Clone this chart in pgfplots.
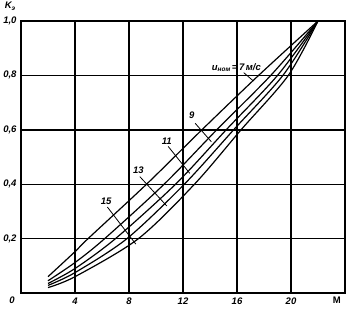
\documentclass[border=0pt]{standalone}
\usepackage{fontspec}
\setmainfont{Liberation Sans}
\usepackage{pgfplots}
\pgfplotsset{compat=1.18}
\begin{document}
\begin{tikzpicture}
\useasboundingbox (-21pt,-16pt) rectangle (329pt,293pt);
\begin{axis}[
  at={(0,0)}, anchor=south west,
  width=324pt, height=272pt, scale only axis,
  xmin=0, xmax=24, ymin=0, ymax=1,
  xtick={0,4,8,12,16,20,24},
  xticklabels={,4,8,12,16,20,},
  ytick={0.2,0.4,0.6,0.8,1.0},
  yticklabels={{0,2},{0,4},{0,6},{0,8},{1,0}},
  grid=major,
  major grid style={black, line width=1.4pt},
  axis line style={black, line width=1.4pt},
  major tick length=0pt,
  tick style={draw=none},
  /pgf/number format/assume math mode=true,
  ticklabel style={font=\fontsize{9.5}{11}\selectfont\bfseries\itshape},
  xticklabel style={yshift=-1pt},
  yticklabel style={xshift=-1pt},
  clip=false,
]
\addplot[black, line width=1.2pt, smooth] coordinates {(2,0.06)(4,0.152)(4.97,0.2)(9.3,0.4)(13.4,0.6)(17.6,0.8)(22,1.0)};
\addplot[black, line width=1.2pt, smooth] coordinates {(2,0.045)(4,0.112)(6.2,0.2)(10.6,0.4)(14.5,0.6)(18.5,0.8)(22,1.0)};
\addplot[black, line width=1.2pt, smooth] coordinates {(2,0.035)(4,0.09)(7.0,0.2)(11.45,0.4)(15.2,0.6)(19.0,0.8)(22,1.0)};
\addplot[black, line width=1.2pt, smooth] coordinates {(2,0.028)(4,0.075)(7.85,0.2)(12.1,0.4)(15.75,0.6)(19.4,0.8)(22,1.0)};
\addplot[black, line width=1.2pt, smooth] coordinates {(2,0.02)(4,0.06)(8.7,0.2)(12.85,0.4)(16.3,0.6)(19.8,0.8)(22,1.0)};
% leader lines
\draw[black, line width=0.8pt] (axis cs:16.5,0.81) -- (axis cs:17.2,0.78);
\draw[black, line width=0.8pt] (axis cs:12.9,0.624) -- (axis cs:14.1,0.556);
\draw[black, line width=0.8pt] (axis cs:10.9,0.539) -- (axis cs:12.5,0.44);
\draw[black, line width=0.8pt] (axis cs:8.8,0.428) -- (axis cs:10.8,0.32);
\draw[black, line width=0.8pt] (axis cs:6.4,0.316) -- (axis cs:8.5,0.18);
% labels
\begin{scope}[every node/.style={font=\fontsize{9.5}{11}\selectfont\bfseries\itshape, inner sep=0pt}]
\node at (axis cs:15.95,0.828) {\fontsize{9.5}{11}\selectfont u\raisebox{-1.5pt}{\fontsize{6.5}{7}\selectfont ном}\,=\,7\,м/с};
\node at (axis cs:12.64,0.654) {9};
\node at (axis cs:10.8,0.557) {11};
\node at (axis cs:8.7,0.453) {13};
\node at (axis cs:6.3,0.336) {15};
\node at (rel axis cs:-0.028,-0.026) {0};
\node at (rel axis cs:0.975,-0.026) {\upshape М};
\node at (rel axis cs:-0.034,1.055) {K\raisebox{-1.5pt}{\fontsize{6.5}{7}\selectfont э}};
\end{scope}
\end{axis}
\end{tikzpicture}
\end{document}
